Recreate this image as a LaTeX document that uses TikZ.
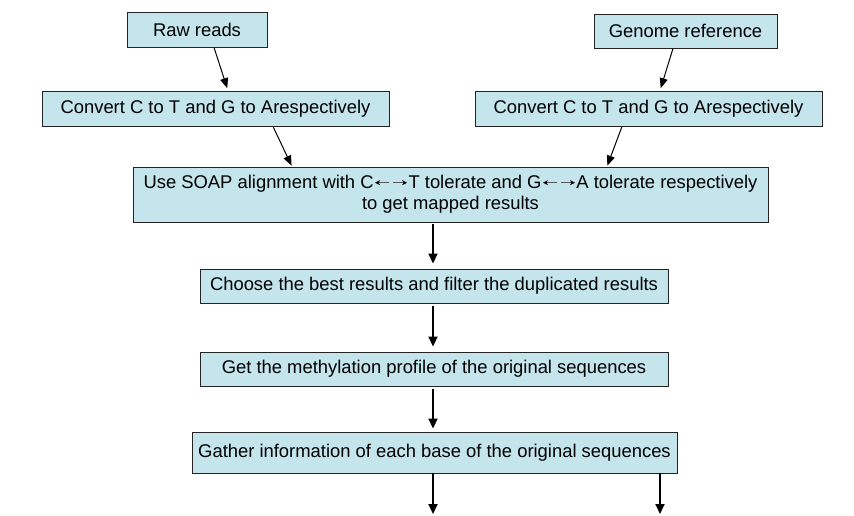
\documentclass[tikz,border=0pt]{standalone}
\usepackage{fontspec}
\setmainfont{Liberation Sans}
\usetikzlibrary{arrows.meta,calc}
\definecolor{boxfill}{RGB}{197,229,237}
\definecolor{boxline}{RGB}{35,35,35}
\newcommand{\dblarr}{\hspace{1pt}\tikz[baseline=-0.33em]{\draw[line width=0.9pt,gray!70!black,-{Stealth[length=5pt,width=5pt,black]}] (14pt,0)--(0,0);\draw[line width=0.9pt,gray!70!black,-{Stealth[length=5pt,width=5pt,black]}] (18pt,0)--(32pt,0);}\hspace{1pt}}
\begin{document}
\begin{tikzpicture}[x=1pt,y=-1pt,
  box/.style={draw=boxline,fill=boxfill,line width=0.9pt,inner sep=0pt,align=center,
    font=\fontsize{18.4}{21}\selectfont},
  slant/.style={line width=1pt,-{Triangle[length=10pt,width=8pt]}},
  varr/.style={line width=1.8pt,-{Triangle[length=10pt,width=9pt]}}]
\useasboundingbox (0,0) rectangle (854,515);
\node[box,minimum width=140pt,minimum height=35pt] (raw) at (197,29.5) {Raw reads};
\node[box,minimum width=183pt,minimum height=34pt] (genome) at (685.5,31) {Genome reference};
\node[box,minimum width=347pt,minimum height=35pt] (conv1) at (215.5,108.5) {Convert C to T and G to Arespectively};
\node[box,minimum width=347pt,minimum height=35pt] (conv2) at (648.5,108.5) {Convert C to T and G to Arespectively};
\node[box,minimum width=635pt,minimum height=55pt] (soap) at (450.5,194.5) {Use SOAP alignment with C\dblarr T tolerate and G\dblarr A tolerate respectively\\to get mapped results};
\node[box,minimum width=468pt,minimum height=34pt] (choose) at (434,286) {Choose the best results and filter the duplicated results};
\node[box,minimum width=468pt,minimum height=34pt] (get) at (434,369) {Get the methylation profile of the original sequences};
\node[box,minimum width=485pt,minimum height=41pt] (gather) at (434.5,452.5) {Gather information of each base of the original sequences};
\coordinate (out1) at (433,514);
\coordinate (out2) at (660,514);
\draw[slant,shorten <=0.5pt,shorten >=2.5pt] ([xshift=17pt]raw.south) -- ([xshift=12.5pt]conv1.north);
\draw[slant,shorten <=0.5pt,shorten >=1pt] ([xshift=57.5pt]conv1.south) -- ([xshift=-158.5pt]soap.north);
\draw[slant,shorten <=0.5pt,shorten >=2.5pt] ([xshift=-12.5pt]genome.south) -- ([xshift=11.5pt]conv2.north);
\draw[slant,shorten <=0.5pt,shorten >=1pt] ([xshift=-26.5pt]conv2.south) -- ([xshift=156.5pt]soap.north);
\draw[varr,shorten <=1.5pt,shorten >=5pt] (soap.south -| out1) -- (choose.north -| out1);
\draw[varr,shorten <=2.5pt,shorten >=5pt] (choose.south -| out1) -- (get.north -| out1);
\draw[varr,shorten <=2.5pt,shorten >=3pt] (get.south -| out1) -- (gather.north -| out1);
\draw[varr] (gather.south -| out1) -- (out1);
\draw[varr] (gather.south -| out2) -- (out2);
\end{tikzpicture}
\end{document}
